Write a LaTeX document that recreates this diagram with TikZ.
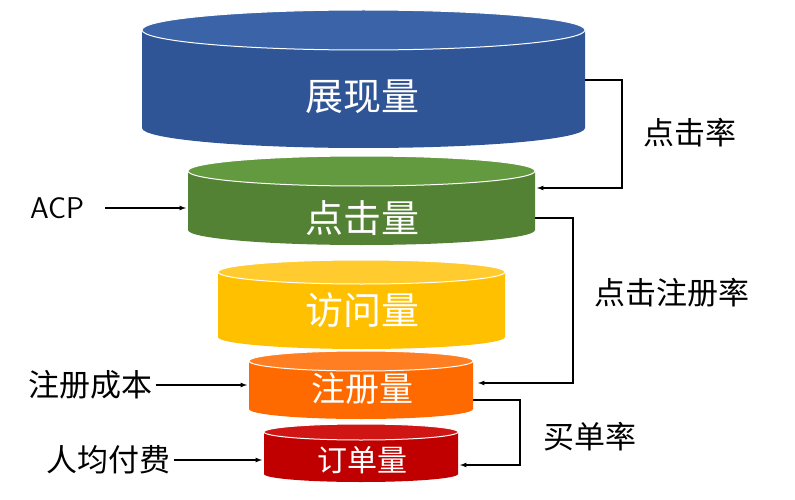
\documentclass[tikz,border=0pt]{standalone}
\usepackage{fontspec}
\newfontfamily\cjk{Noto Sans CJK SC}
\begin{document}
\begin{tikzpicture}[x=1pt,y=-1pt,
  lbl/.style={font=\cjk\fontsize{38}{38}\selectfont,text=white},
  side/.style={font=\cjk\fontsize{31}{31}\selectfont,text=black},
  arr/.style={-latex,line width=1.2pt}]
\useasboundingbox (0,0) rectangle (795,500);
\newcommand\cyl[7]{%
  \pgfmathsetmacro\a{(#2-#1)/2}%
  \fill[#6] (#1,#3) -- (#1,#4) arc[start angle=180,end angle=360,x radius=\a,y radius=-#5] -- (#2,#3) -- cycle;
  \fill[#7,draw=white,line width=1pt] ({(#1+#2)/2},#3) ellipse[x radius=\a,y radius=#5];}
\definecolor{b1}{HTML}{2F5597}\definecolor{b2}{HTML}{3A63A8}
\definecolor{g1}{HTML}{548235}\definecolor{g2}{HTML}{639A3F}
\definecolor{y1}{HTML}{FFC000}\definecolor{y2}{HTML}{FFCB2E}
\definecolor{o1}{HTML}{FF6A00}\definecolor{o2}{HTML}{FF7E22}
\definecolor{r1}{HTML}{C00000}\definecolor{r2}{HTML}{D01515}
\cyl{142}{585}{30}{128}{20}{b1}{b2}
\cyl{188}{535}{171}{230}{15}{g1}{g2}
\cyl{218}{505}{272}{337}{12}{y1}{y2}
\cyl{249}{473}{361}{409}{10}{o1}{o2}
\cyl{264}{458}{432}{474}{8}{r1}{r2}
\node[lbl] (n1) at (362,97) {展现量};
\node[lbl] (n2) at (362,218) {点击量};
\node[lbl] (n3) at (362,310) {访问量};
\node[lbl,font=\cjk\fontsize{34}{34}\selectfont] (n4) at (362,389) {注册量};
\node[lbl,font=\cjk\fontsize{30}{30}\selectfont] (n5) at (362,460) {订单量};
\coordinate (b1r) at (585,80); \coordinate (b2r) at (537,188);
\coordinate (g1r) at (535,218); \coordinate (g2r) at (478,383);
\coordinate (o1r) at (473,400); \coordinate (o2r) at (460,465);
\draw[arr] (b1r) -- (622,80) -- (622,188) -- (b2r);
\draw[arr] (g1r) -- (573,218) -- (573,383) -- (g2r);
\draw[arr] (o1r) -- (520,400) -- (520,465) -- (o2r);
\node[side] at (690,133) {点击率};
\node[side] at (672,293) {点击注册率};
\node[side] at (590,437) {买单率};
\node[side,font=\fontsize{30}{30}\selectfont\sffamily] (acp) at (57,208) {ACP};
\node[side] (zc) at (90,385) {注册成本};
\node[side] (rj) at (108,460) {人均付费};
\coordinate (g0) at (186,208); \coordinate (o0) at (247,385); \coordinate (r0) at (262,460);
\draw[arr] (105,208) -- (g0);
\draw[arr] (zc.east) -- (o0);
\draw[arr] (rj.east) -- (r0);
\end{tikzpicture}
\end{document}
